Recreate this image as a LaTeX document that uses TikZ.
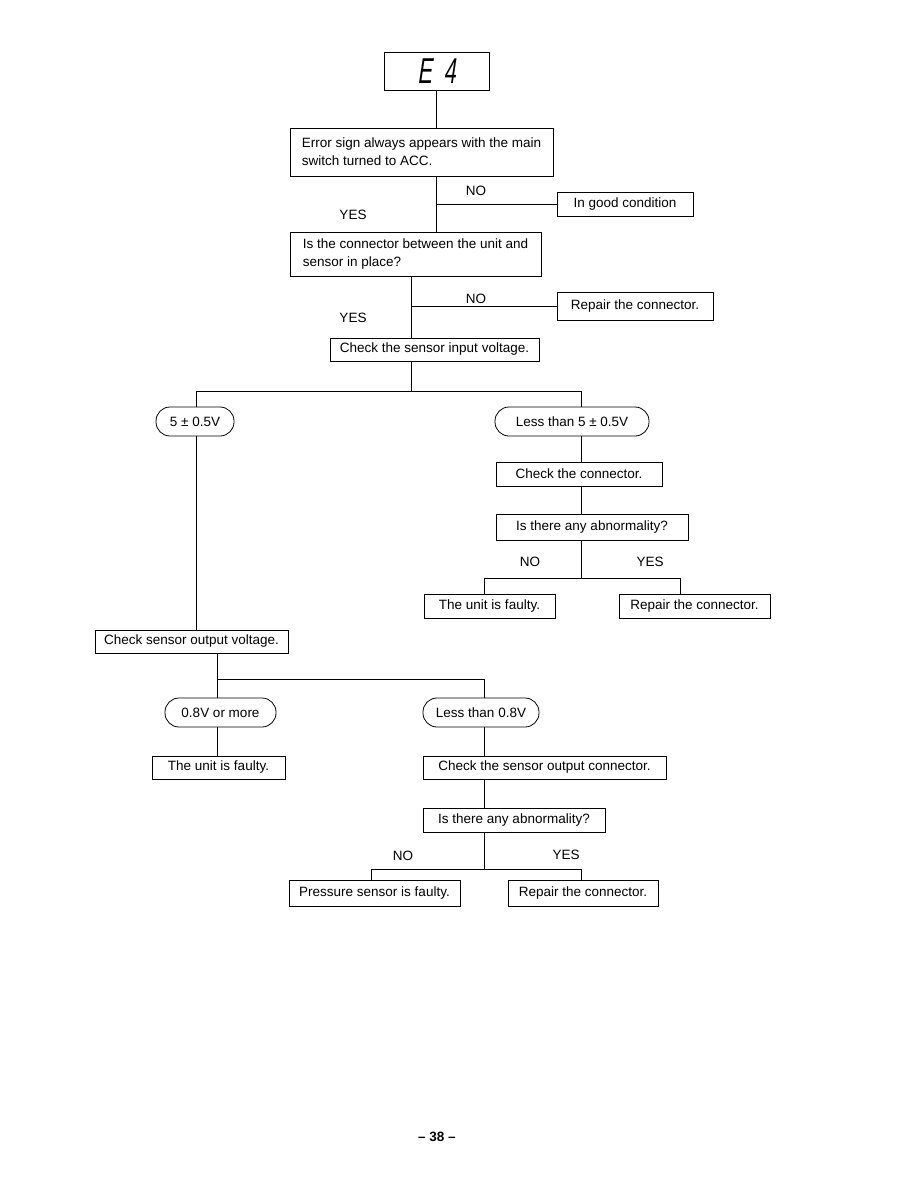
\documentclass[tikz,border=0pt]{standalone}
\usepackage{fontspec}
\setmainfont{Liberation Sans}
\newfontfamily\segfont[FakeSlant=0.15,FakeStretch=0.6]{Liberation Sans}
\usetikzlibrary{positioning,calc}

\begin{document}
\begin{tikzpicture}[x=1pt,y=-1pt,line width=0.8pt,
  font=\fontsize{13.5}{18}\selectfont,
  box/.style={draw,rectangle,inner sep=0pt},
  pill/.style={draw,rectangle,rounded corners=14pt,inner sep=0pt,minimum height=29pt},
  lbl/.style={inner sep=0pt}]
  \useasboundingbox (0,0) rectangle (918,1188);
  % top of the chart
  \node (E4) [box,minimum width=105pt,minimum height=38pt] at (436.5,71) {\segfont\fontsize{36}{36}\selectfont E\,\,4};
  \node (Q1) [box,minimum width=263pt,minimum height=48pt,align=left] at (421.5,152)
    {Error sign always appears with the main\\switch turned to ACC.};
  \node (Good) [box,minimum width=136pt,minimum height=24pt] at (625,204) {In good condition};
  \node (Q2) [box,minimum width=251pt,minimum height=44pt,align=left] at (415.5,254)
    {Is the connector between the unit and\\sensor in place?};
  \node (Fix1) [box,minimum width=156pt,minimum height=28pt] at (635,306) {Repair the connector.};
  \node (In) [box,minimum width=209pt,minimum height=23pt] at (434.5,349.5) {Check the sensor input voltage.};
  \node (No1) [lbl] at (476,191) {NO};
  \node (Yes1) [lbl] at (353,215) {YES};
  \node (No2) [lbl] at (476,299) {NO};
  \node (Yes2) [lbl] at (353,318) {YES};
  \coordinate (A) at (411,307);
  \draw (E4.south) -- (E4.south |- Q1.north);
  \draw (Q1.south -| E4) -- (Q2.north -| E4);
  \draw (Good.west) -- (Good.west -| E4);
  \draw (Q2.south -| A) -- (In.north -| A);
  \draw (Fix1.west) -- (Fix1.west -| A);
  % input voltage
  \coordinate (J1) at (411,391);
  \coordinate (L1) at (196,391);
  \coordinate (R1) at (581,391);
  \node (Ok5) [pill,minimum width=78pt] at (195,421.5) {5 ± 0.5V};
  \node (Low5) [pill,minimum width=154pt] at (572,421.5) {Less than 5 ± 0.5V};
  \draw (In.south -| J1) -- (J1);
  \draw (L1 |- Ok5.north) -- (L1) -- (R1) -- (R1 |- Low5.north);
  \node (Chk1) [box,minimum width=166pt,minimum height=24pt] at (579,474) {Check the connector.};
  \node (Ab1) [box,minimum width=192pt,minimum height=26pt] at (592,527) {Is there any abnormality?};
  \node (Unit1) [box,minimum width=131pt,minimum height=24pt] at (489.5,606) {The unit is faulty.};
  \node (Fix2) [box,minimum width=151pt,minimum height=24pt] at (694.5,606) {Repair the connector.};
  \node (No3) [lbl] at (530,562) {NO};
  \node (Yes3) [lbl] at (650,562) {YES};
  \coordinate (J2) at (581,578);
  \coordinate (N2) at (484,578);
  \coordinate (Y2) at (680,578);
  \draw (Low5.south -| R1) -- (Chk1.north -| R1);
  \draw (Chk1.south -| R1) -- (Ab1.north -| R1);
  \draw (Ab1.south -| J2) -- (J2);
  \draw (N2 |- Unit1.north) -- (N2) -- (Y2) -- (Y2 |- Fix2.north);
  % output voltage
  \node (Out) [box,minimum width=193pt,minimum height=23pt] at (191.5,641.5) {Check sensor output voltage.};
  \draw (Ok5.south -| L1) -- (L1 |- Out.north);
  \coordinate (J3) at (217,679);
  \coordinate (R3) at (484,679);
  \node (Ok8) [pill,minimum width=111pt] at (220.5,712.5) {0.8V or more};
  \node (Low8) [pill,minimum width=116pt] at (481,712.5) {Less than 0.8V};
  \draw (Out.south -| J3) -- (J3);
  \draw (J3 |- Ok8.north) -- (J3) -- (R3) -- (R3 |- Low8.north);
  \node (Unit2) [box,minimum width=133pt,minimum height=23pt] at (218.5,767.5) {The unit is faulty.};
  \node (Chk2) [box,minimum width=243pt,minimum height=23pt] at (544.5,767.5) {Check the sensor output connector.};
  \node (Ab2) [box,minimum width=182pt,minimum height=24pt] at (514,820) {Is there any abnormality?};
  \draw (Ok8.south -| J3) -- (Unit2.north -| J3);
  \draw (Low8.south -| R3) -- (Chk2.north -| R3);
  \draw (Chk2.south -| R3) -- (Ab2.north -| R3);
  \node (No4) [lbl] at (403,856) {NO};
  \node (Yes4) [lbl] at (566,855) {YES};
  \node (Sens) [box,minimum width=171pt,minimum height=26pt] at (374.5,893) {Pressure sensor is faulty.};
  \node (Fix3) [box,minimum width=150pt,minimum height=26pt] at (583,893) {Repair the connector.};
  \coordinate (J4) at (484,869);
  \coordinate (N4) at (371,869);
  \coordinate (Y4) at (581,869);
  \draw (Ab2.south -| J4) -- (J4);
  \draw (N4 |- Sens.north) -- (N4) -- (Y4) -- (Y4 |- Fix3.north);
  \node (Page) [lbl] at (437,1137) {\bfseries -- 38 --};
\end{tikzpicture}
\end{document}
